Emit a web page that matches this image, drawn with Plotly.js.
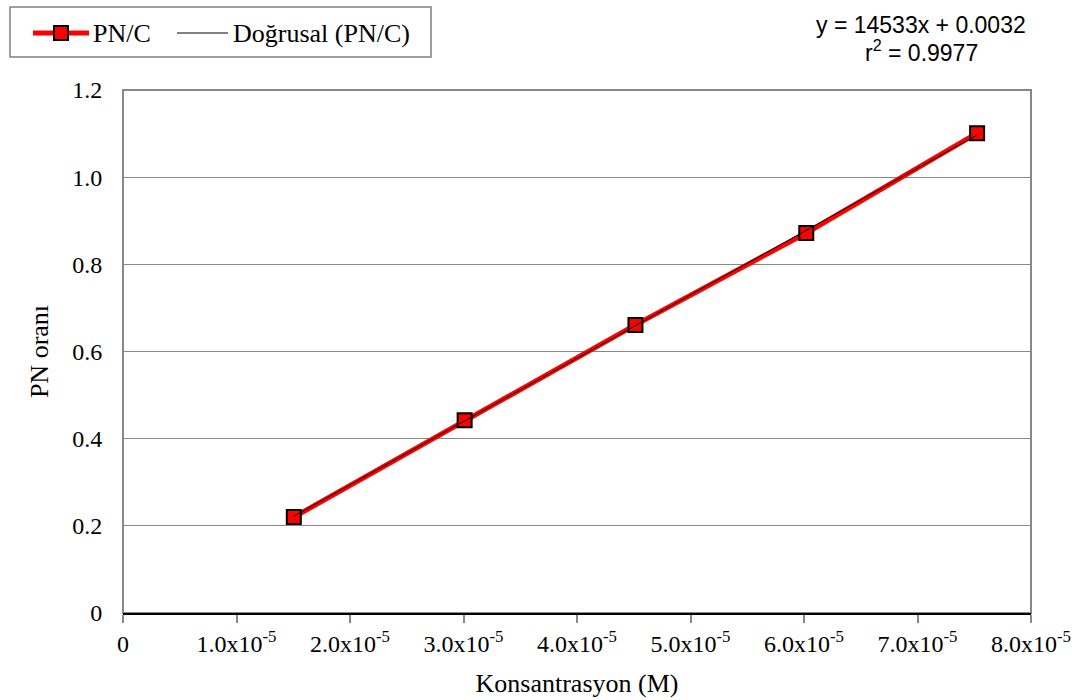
<!DOCTYPE html>
<html>
<head>
<meta charset="utf-8">
<script src="https://cdn.plot.ly/plotly-3.0.1.min.js"></script>
<style>
  html, body { margin: 0; padding: 0; background: #fff; }
  #chart { width: 1072px; height: 700px; }
</style>
</head>
<body>
<div id="chart"></div>
<script>
// Measured PN/C ratio versus concentration (M)
const concentration = [1.505e-5, 3.01e-5, 4.515e-5, 6.02e-5, 7.525e-5];
const pnRatio = [0.22, 0.442, 0.661, 0.872, 1.101];

// Linear fit reported on the chart
const slope = 14533;
const intercept = 0.0032;
const rSquared = 0.9977;

// Series names
const seriesName = 'PN/C';
const fitName = 'Doğrusal (PN/C)';

// Axis ticks
const xTickVals = [0, 1e-5, 2e-5, 3e-5, 4e-5, 5e-5, 6e-5, 7e-5, 8e-5];
const xTickText = ['0', '1.0x10<sup>-5</sup>', '2.0x10<sup>-5</sup>', '3.0x10<sup>-5</sup>',
  '4.0x10<sup>-5</sup>', '5.0x10<sup>-5</sup>', '6.0x10<sup>-5</sup>', '7.0x10<sup>-5</sup>',
  '8.0x10<sup>-5</sup>'];
const yTickVals = [0, 0.2, 0.4, 0.6, 0.8, 1.0, 1.2];
const yTickText = ['0', '0.2', '0.4', '0.6', '0.8', '1.0', '1.2'];

const xMin = Math.min(...concentration);
const xMax = Math.max(...concentration);
const fitX = [xMin, xMax];
const fitY = fitX.map(x => slope * x + intercept);

const serif = 'Liberation Serif, Times New Roman, serif';
const sans = 'Liberation Sans, Arial, sans-serif';

const W = 1072, H = 700;
const M = { l: 123, r: 41, t: 90, b: 87 };
const plotW = W - M.l - M.r, plotH = H - M.t - M.b;
// page pixel -> paper coordinate helpers (used for the legend box)
const px = v => (v - M.l) / plotW;
const py = v => (H - M.b - v) / plotH;

const RED = '#ff0000';

const traces = [
  {
    x: concentration, y: pnRatio, name: seriesName, type: 'scatter', mode: 'lines+markers',
    line: { color: RED, width: 5 },
    marker: { symbol: 'square', size: 14, color: RED, line: { color: '#000', width: 2 } }
  },
  {
    x: fitX, y: fitY, name: fitName, type: 'scatter', mode: 'lines',
    line: { color: '#000', width: 1 }
  }
];

// Legend drawn as shapes + annotations above the plot
const legRowY = py(33);
const legendShapes = [
  { type: 'rect', xref: 'paper', yref: 'paper', x0: px(10), x1: px(431), y0: py(57), y1: py(7),
    line: { color: '#808080', width: 1.5 }, fillcolor: '#fff', layer: 'above' },
  { type: 'line', xref: 'paper', yref: 'paper', x0: px(33), x1: px(89), y0: legRowY, y1: legRowY,
    line: { color: RED, width: 5 }, layer: 'above' },
  { type: 'rect', xref: 'paper', yref: 'paper', x0: px(54), x1: px(68), y0: py(40), y1: py(26),
    line: { color: '#000', width: 2 }, fillcolor: RED, layer: 'above' },
  { type: 'line', xref: 'paper', yref: 'paper', x0: px(177), x1: px(228), y0: legRowY, y1: legRowY,
    line: { color: '#000', width: 1 }, layer: 'above' }
];
const legendNotes = [
  { xref: 'paper', yref: 'paper', x: px(91), y: legRowY, xanchor: 'left', yanchor: 'middle',
    showarrow: false, font: { family: serif, size: 26, color: '#000' }, text: seriesName },
  { xref: 'paper', yref: 'paper', x: px(231), y: legRowY, xanchor: 'left', yanchor: 'middle',
    showarrow: false, font: { family: serif, size: 26, color: '#000' }, text: fitName }
];

const layout = {
  width: W, height: H,
  margin: { l: M.l, r: M.r, t: M.t, b: M.b, autoexpand: false },
  paper_bgcolor: '#fff', plot_bgcolor: '#fff',
  font: { family: serif, size: 24, color: '#000' },
  showlegend: false,
  xaxis: {
    range: [0, 8e-5], tickvals: xTickVals, ticktext: xTickText,
    showgrid: false, zeroline: false,
    showline: true, linecolor: '#000', linewidth: 2,
    ticks: 'outside', ticklen: 8, tickcolor: '#888', tickwidth: 2,
    tickfont: { family: serif, size: 24 },
    title: { text: 'Konsantrasyon (M)', font: { family: serif, size: 26 }, standoff: 18 }
  },
  yaxis: {
    range: [0, 1.2], tickvals: yTickVals, ticktext: yTickText,
    showgrid: true, gridcolor: '#888', gridwidth: 1, zeroline: false,
    showline: false,
    ticks: 'outside', ticklen: 15, tickcolor: 'rgba(0,0,0,0)',
    tickfont: { family: serif, size: 24 },
    title: { text: 'PN oranı', font: { family: serif, size: 26 }, standoff: 16 }
  },
  shapes: [
    { type: 'rect', xref: 'paper', yref: 'paper', x0: 0, x1: 1, y0: 0, y1: 1,
      line: { color: '#888', width: 2 }, layer: 'below' }
  ].concat(legendShapes),
  annotations: [
    { xref: 'paper', yref: 'paper', x: px(921), y: py(25), xanchor: 'center', yanchor: 'middle',
      showarrow: false, font: { family: sans, size: 23, color: '#000' },
      text: 'y = ' + slope + 'x + ' + intercept.toFixed(4) },
    { xref: 'paper', yref: 'paper', x: px(921), y: py(51), xanchor: 'center', yanchor: 'middle',
      showarrow: false, font: { family: sans, size: 23, color: '#000' },
      text: 'r<sup>2</sup> = ' + rSquared.toFixed(4) }
  ].concat(legendNotes)
};

Plotly.newPlot('chart', traces, layout, { displayModeBar: false, staticPlot: true });
</script>
</body>
</html>
